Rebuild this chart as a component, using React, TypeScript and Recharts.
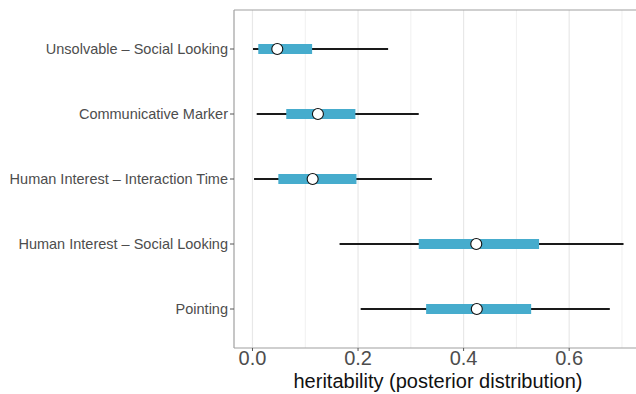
import React from "react";
import {
  ScatterChart,
  Scatter,
  XAxis,
  YAxis,
  ErrorBar,
  ReferenceLine,
} from "recharts";

const labels = [
  "Unsolvable – Social Looking",
  "Communicative Marker",
  "Human Interest – Interaction Time",
  "Human Interest – Social Looking",
  "Pointing",
];
const medians = [0.047, 0.124, 0.114, 0.424, 0.425];
const boxLow = [0.011, 0.064, 0.049, 0.315, 0.329];
const boxHigh = [0.113, 0.195, 0.197, 0.543, 0.528];
const whiskLow = [0.001, 0.008, 0.003, 0.165, 0.205];
const whiskHigh = [0.257, 0.315, 0.34, 0.703, 0.677];

const xTicks = [0, 0.2, 0.4, 0.6];
const gridMajor = [0, 0.2, 0.4, 0.6];
const gridMinor = [0.1, 0.3, 0.5, 0.7];

const data = labels.map((name, i) => ({
  name,
  pos: i + 1,
  median: medians[i],
  whisker: [medians[i] - whiskLow[i], whiskHigh[i] - medians[i]],
  box: [medians[i] - boxLow[i], boxHigh[i] - medians[i]],
}));

const FONT = "'Liberation Sans', Arial, sans-serif";
const BORDER = "#a0a0a0";

function Dot(props: any) {
  const { cx, cy } = props;
  if (cx == null || cy == null) return null;
  return <circle cx={cx} cy={cy} r={5.5} fill="#ffffff" stroke="#111" strokeWidth={1.1} />;
}

export default function App() {
  return (
    <div
      style={{
        position: "fixed",
        left: 0,
        top: 0,
        width: 636,
        height: 394,
        overflow: "hidden",
        background: "#fff",
      }}
    >
      <ScatterChart width={643} height={394} margin={{ top: 10, right: 1, bottom: 0, left: 0 }}>
        {gridMinor.map((v) => (
          <ReferenceLine key={"mi" + v} x={v} stroke="#f0f0f0" strokeWidth={1} />
        ))}
        {gridMajor.map((v) => (
          <ReferenceLine key={"ma" + v} x={v} stroke="#e8e8e8" strokeWidth={1.2} />
        ))}
        <ReferenceLine y={0.4} stroke={BORDER} strokeWidth={1.2} />
        <XAxis
          type="number"
          dataKey="median"
          domain={[-0.035, 0.738]}
          allowDataOverflow
          ticks={xTicks}
          tickFormatter={(v: number) => v.toFixed(1)}
          height={46}
          tickSize={3}
          tickMargin={0}
          axisLine={{ stroke: BORDER, strokeWidth: 1.2 }}
          tickLine={{ stroke: "#555" }}
          tick={{ fontSize: 20, fill: "#4d4d4d", fontFamily: FONT }}
          label={{
            value: "heritability (posterior distribution)",
            position: "insideBottom",
            offset: 6,
            fontSize: 20,
            fill: "#111",
            fontFamily: FONT,
          }}
        />
        <YAxis
          type="number"
          dataKey="pos"
          domain={[0.4, 5.6]}
          reversed
          allowDataOverflow
          ticks={[1, 2, 3, 4, 5]}
          tickFormatter={(v: number) => labels[v - 1] ?? ""}
          width={234}
          tickSize={4}
          tickMargin={2}
          axisLine={{ stroke: BORDER, strokeWidth: 1.2 }}
          tickLine={{ stroke: "#555" }}
          tick={{ fontSize: 14.5, fill: "#4d4d4d", fontFamily: FONT }}
        />
        <Scatter data={data} shape={<Dot />} isAnimationActive={false}>
          <ErrorBar
            dataKey="whisker"
            direction="x"
            width={0}
            stroke="#1a1a1a"
            strokeWidth={2}
            isAnimationActive={false}
          />
          <ErrorBar
            dataKey="box"
            direction="x"
            width={0}
            stroke="#46accd"
            strokeWidth={10}
            isAnimationActive={false}
          />
        </Scatter>
      </ScatterChart>
    </div>
  );
}
